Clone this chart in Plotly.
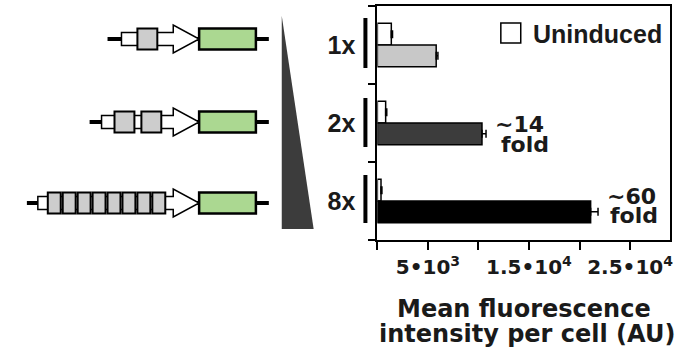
import plotly.graph_objects as go

# ---------------- data ----------------
categories = ["1x", "2x", "8x"]
uninduced = [1380, 820, 360]
uninduced_err = [120, 110, 90]
induced = [5820, 10350, 21100]
induced_err = [170, 400, 730]
induced_colors = ["#c8c8c8", "#3c3c3c", "#000000"]
fold_labels = {"2x": ("~14", "fold"), "8x": ("~60", "fold")}
x_tickvals = [5000, 15000, 25000]
x_ticktext = ["5•10<sup>3</sup>", "1.5•10<sup>4</sup>", "2.5•10<sup>4</sup>"]
x_minor_step = 5000
legend_label = "Uninduced"
title_lines = ["Mean fluorescence", "intensity per cell (AU)"]
repeats = [1, 2, 8]

W, H = 695, 357
FONT = "Liberation Sans"
WIDE = "DejaVu Sans"
TXT = "#1a1a1a"


def px(x):
    return x / W


def py(y):
    return 1 - y / H


fig = go.Figure()
fig.add_trace(go.Bar(
    y=categories, x=uninduced, orientation="h", name=legend_label,
    marker=dict(color="white", line=dict(color="black", width=1.5)),
    error_x=dict(type="data", array=uninduced_err, arrayminus=[0] * 3, symmetric=False,
                 color="black", thickness=1.5, width=4),
    showlegend=False,
))
fig.add_trace(go.Bar(
    y=categories, x=induced, orientation="h", name="Induced",
    marker=dict(color=induced_colors, line=dict(color="black", width=1.5)),
    error_x=dict(type="data", array=induced_err, arrayminus=[0] * 3, symmetric=False,
                 color="black", thickness=1.5, width=4),
    showlegend=False,
))

shapes = []
annotations = []

# ----- construct diagrams (decoration) -----
row_cy = [39, 122, 203]
line_start = [108, 90, 27]
shaft_start = [122, 102, 38]
box_starts = [[138], [115, 142], [48, 63, 78, 93, 108, 123, 138, 153]]
box_w = [20, 20, 13]
for i, n in enumerate(repeats):
    cy = row_cy[i]
    shapes.append(dict(type="line", xref="paper", yref="paper",
                       x0=px(line_start[i]), x1=px(270), y0=py(cy), y1=py(cy),
                       line=dict(color="black", width=4), layer="above"))
    pts = [(shaft_start[i], cy - 6.5), (174, cy - 6.5), (174, cy - 14), (200, cy),
           (174, cy + 14), (174, cy + 6.5), (shaft_start[i], cy + 6.5)]
    path = "M " + " L ".join(f"{px(a):.5f},{py(b):.5f}" for a, b in pts) + " Z"
    shapes.append(dict(type="path", xref="paper", yref="paper", path=path,
                       fillcolor="white", line=dict(color="black", width=1.5), layer="above"))
    for bx in box_starts[i]:
        shapes.append(dict(type="rect", xref="paper", yref="paper",
                           x0=px(bx), x1=px(bx + box_w[i]), y0=py(cy - 10.5), y1=py(cy + 10.5),
                           fillcolor="#cdcdcd", line=dict(color="black", width=2), layer="above"))
    shapes.append(dict(type="rect", xref="paper", yref="paper",
                       x0=px(200), x1=px(257), y0=py(cy - 10.5), y1=py(cy + 10.5),
                       fillcolor="#abd891", line=dict(color="black", width=2.5), layer="above"))

# wedge
wpts = [(283, 16), (283, 229), (315, 229)]
shapes.append(dict(type="path", xref="paper", yref="paper",
                   path="M " + " L ".join(f"{px(a):.5f},{py(b):.5f}" for a, b in wpts) + " Z",
                   fillcolor="#3c3c3c", line=dict(width=0)))

# brackets next to labels
bracket_y = [(18, 68), (98, 147), (175, 223)]
for y0, y1 in bracket_y:
    shapes.append(dict(type="line", xref="paper", yref="paper",
                       x0=px(367), x1=px(367), y0=py(y0), y1=py(y1),
                       line=dict(color="black", width=4)))

# legend box
shapes.append(dict(type="rect", xref="paper", yref="paper",
                   x0=px(503), x1=px(523), y0=py(23), y1=py(43),
                   fillcolor="white", line=dict(color="black", width=1.5)))
annotations.append(dict(text="<b>" + legend_label + "</b>", xref="paper", yref="paper",
                        x=px(533), y=py(33.5),
                        xanchor="left", yanchor="middle", showarrow=False,
                        font=dict(family=FONT, size=25, color=TXT)))

# fold annotations
fold_pos = {"2x": [(522, 124), (527, 144)], "8x": [(634, 196), (637, 216)]}
for cat, lines in fold_labels.items():
    for (ax, ay), t in zip(fold_pos[cat], lines):
        annotations.append(dict(text="<b>" + t + "</b>", xref="paper", yref="paper",
                                x=px(ax), y=py(ay),
                                xanchor="center", yanchor="middle", showarrow=False,
                                font=dict(family=WIDE, size=22, color=TXT)))

# axis title (two lines)
for (ax, ay), t in zip([(526, 309), (529, 334)], title_lines):
    annotations.append(dict(text="<b>" + t + "</b>", xref="paper", yref="paper",
                            x=px(ax), y=py(ay),
                            xanchor="center", yanchor="middle", showarrow=False,
                            font=dict(family=WIDE, size=24, color=TXT)))

fig.update_layout(
    width=W, height=H,
    margin=dict(l=0, r=0, t=0, b=0),
    paper_bgcolor="white", plot_bgcolor="white",
    barmode="group", bargap=0.444, bargroupgap=0,
    shapes=shapes, annotations=annotations,
    font=dict(family=FONT, color=TXT),
    xaxis=dict(domain=[px(379), px(673)], range=[0, 28960],
               tickvals=x_tickvals, ticktext=["<b>" + t + "</b>" for t in x_ticktext],
               ticks="outside", ticklen=8, tickwidth=2, tickcolor="black",
               minor=dict(tick0=0, dtick=x_minor_step, ticks="outside", ticklen=8,
                          tickwidth=2, tickcolor="black", showgrid=False),
               showline=True, linewidth=2, linecolor="black", mirror=True,
               showgrid=False, zeroline=False,
               tickfont=dict(family=WIDE, size=20, color=TXT)),
    yaxis=dict(domain=[py(240), py(6)], autorange="reversed",
               type="category", tickson="boundaries",
               tickvals=categories, ticktext=["<b>" + c + "</b>" for c in categories],
               ticks="outside", ticklen=7, tickwidth=2, tickcolor="black",
               ticklabelstandoff=15,
               showline=True, linewidth=2, linecolor="black", mirror=True,
               showgrid=False, zeroline=False,
               tickfont=dict(family=FONT, size=25, color=TXT)),
)

fig.write_html("out.html", post_script="document.body.style.margin='0';",
               config={"displayModeBar": False})
